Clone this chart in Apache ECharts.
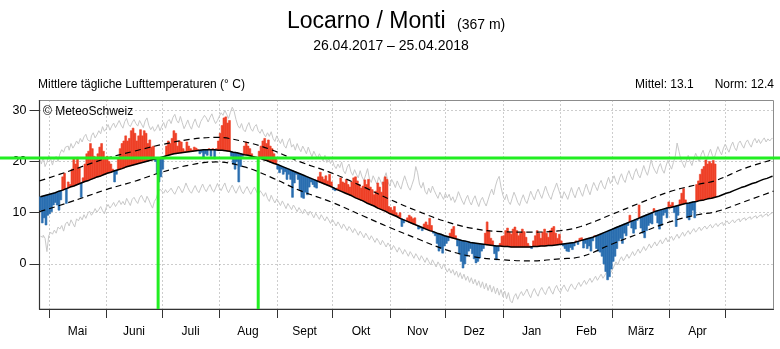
<!DOCTYPE html>
<html>
<head>
<meta charset="utf-8">
<script src="https://cdn.jsdelivr.net/npm/echarts@6/dist/echarts.min.js"></script>
<style>
  html, body { margin: 0; padding: 0; background: #fff; }
  #chart { width: 780px; height: 349px; }
</style>
</head>
<body>
<div id="chart"></div>
<script>
// Day index 0 = 26.04.2017; the axis runs on one year past that, plus one month of climatology.
const monthStarts = [5, 36, 66, 97, 128, 158, 189, 219, 250, 281, 309, 340, 370];
const monthMids   = [20.5, 51, 81.5, 112.5, 143, 173.5, 204, 234.5, 265.5, 295, 324.5, 355];
const monthNames  = ['Mai', 'Juni', 'Juli', 'Aug', 'Sept', 'Okt', 'Nov', 'Dez', 'Jan', 'Feb', 'März', 'Apr'];
const yTicks = [0, 10, 20, 30];

// Daily mean air temperature, 26.04.2017 – 25.04.2018 (°C)
const tempDaily = [
  10.5,8.0,9.0,7.6,9.5,9.8,10.2,11.5,12.0,11.5,
  10.5,12.5,17.0,17.7,11.8,16.0,15.5,18.5,20.5,19.5,
  20.8,18.8,13.0,16.8,19.5,21.5,22.0,23.5,22.5,21.0,
  20.8,21.5,22.8,23.5,22.0,20.5,21.0,20.0,19.5,18.5,
  16.0,17.5,20.5,22.5,23.5,24.0,25.0,24.0,24.5,26.0,
  26.5,25.5,24.0,25.0,26.2,25.0,26.0,25.5,23.5,24.2,
  22.8,23.0,20.0,17.5,16.0,17.0,18.5,20.5,23.0,24.0,
  23.5,24.5,26.0,25.5,23.0,24.0,23.8,22.5,22.0,23.8,
  23.0,22.5,22.2,22.8,22.6,22.3,21.5,21.8,20.8,21.5,
  21.2,22.5,21.0,22.5,20.5,22.5,24.0,25.5,27.0,28.5,
  28.7,27.5,28.0,21.0,19.5,18.5,20.0,16.0,19.0,21.0,
  23.0,23.8,23.0,22.5,21.5,21.0,20.9,20.6,22.0,23.0,
  24.0,24.5,23.5,24.2,23.0,22.5,21.5,20.5,18.5,17.8,
  18.5,17.5,18.0,16.5,17.5,16.5,13.0,15.8,17.5,16.5,
  14.5,13.0,12.8,14.0,13.5,15.0,16.0,15.5,15.0,14.8,
  17.0,17.9,17.0,16.5,17.2,16.2,17.5,16.0,14.5,14.3,
  14.8,15.5,16.8,16.0,15.8,16.5,15.5,15.0,16.0,16.8,
  17.0,16.2,15.5,14.8,15.2,16.4,15.5,16.5,15.0,14.5,
  13.5,14.2,15.8,15.0,14.0,16.0,17.0,16.5,11.2,11.0,
  10.5,11.2,10.0,9.5,10.0,7.3,8.0,8.5,9.0,9.5,
  9.2,8.8,9.0,7.5,6.8,7.0,6.5,7.8,8.2,7.6,
  8.9,7.5,6.0,5.5,4.0,2.5,3.0,2.1,3.5,4.0,
  4.5,6.0,6.8,7.3,5.5,3.5,2.0,0.5,-0.8,0.0,
  1.5,2.5,3.0,2.0,1.0,0.2,0.5,1.2,2.5,3.0,
  6.0,8.2,6.5,5.0,4.5,2.0,0.8,2.5,4.0,5.4,
  5.5,6.5,7.0,6.2,5.8,6.8,7.2,6.5,5.5,6.0,
  6.8,6.3,5.2,4.0,3.5,3.0,4.5,5.5,6.5,6.0,
  5.0,6.2,6.8,6.0,5.2,6.5,7.0,7.3,6.0,5.0,
  5.8,4.5,3.5,3.0,2.5,2.4,3.2,2.8,3.5,4.5,
  3.8,5.0,5.1,3.1,4.0,3.0,3.5,2.5,4.5,5.5,
  3.0,2.5,2.3,1.5,0.0,-1.5,-3.1,-2.5,-1.0,0.5,
  1.5,3.0,4.5,5.0,4.0,6.0,5.5,7.5,9.5,7.0,
  6.0,6.8,8.5,11.5,7.0,6.0,5.1,6.5,7.5,8.0,
  7.8,10.8,9.5,8.0,6.8,7.5,9.5,10.0,9.0,12.1,
  11.5,12.0,10.0,7.3,9.5,12.5,13.8,14.7,12.5,9.0,
  8.6,9.5,10.5,9.0,15.5,16.2,17.5,18.5,19.0,20.3,
  19.5,20.0,19.6,20.2,19.5
];

// Daily norm (°C)
const normDaily = [
  13.1,13.2,13.3,13.4,13.5,13.6,13.7,13.8,13.9,14.0,14.2,
  14.3,14.4,14.6,14.7,14.8,15.0,15.1,15.2,15.4,15.5,
  15.7,15.8,15.9,16.1,16.2,16.3,16.5,16.6,16.7,16.9,
  17.0,17.1,17.3,17.4,17.5,17.7,17.8,17.9,18.0,18.2,
  18.3,18.4,18.5,18.6,18.7,18.9,19.0,19.1,19.2,19.3,
  19.4,19.5,19.6,19.7,19.8,19.9,20.0,20.1,20.2,20.3,
  20.4,20.5,20.6,20.7,20.8,20.9,21.0,21.1,21.2,21.3,
  21.4,21.5,21.5,21.6,21.7,21.7,21.8,21.8,21.9,21.9,
  22.0,22.0,22.1,22.1,22.2,22.2,22.2,22.3,22.3,22.3,
  22.3,22.3,22.3,22.3,22.3,22.2,22.2,22.2,22.1,22.1,
  22.0,22.0,21.9,21.8,21.8,21.7,21.6,21.5,21.4,21.3,
  21.3,21.2,21.1,21.0,20.9,20.8,20.8,20.7,20.6,20.4,
  20.3,20.2,20.0,19.9,19.8,19.6,19.5,19.4,19.2,19.1,
  18.9,18.8,18.6,18.5,18.3,18.2,18.0,17.9,17.7,17.6,
  17.4,17.3,17.1,17.0,16.8,16.7,16.5,16.4,16.2,16.1,
  15.9,15.8,15.6,15.5,15.3,15.2,15.0,14.9,14.7,14.5,
  14.4,14.2,14.1,13.9,13.7,13.6,13.4,13.3,13.1,12.9,
  12.8,12.6,12.4,12.3,12.1,11.9,11.8,11.6,11.4,11.3,
  11.1,10.9,10.8,10.6,10.4,10.3,10.1,9.9,9.8,9.6,
  9.4,9.3,9.1,8.9,8.8,8.6,8.5,8.3,8.1,8.0,
  7.8,7.7,7.5,7.4,7.2,7.1,6.9,6.8,6.7,6.5,
  6.4,6.3,6.1,6.0,5.9,5.8,5.6,5.5,5.4,5.3,
  5.2,5.1,5.0,4.9,4.8,4.7,4.6,4.5,4.5,4.4,
  4.3,4.2,4.2,4.1,4.0,4.0,3.9,3.9,3.8,3.8,
  3.7,3.7,3.6,3.6,3.6,3.5,3.5,3.5,3.4,3.4,
  3.4,3.4,3.4,3.3,3.3,3.3,3.3,3.3,3.3,3.3,
  3.3,3.3,3.3,3.3,3.4,3.4,3.4,3.4,3.4,3.5,
  3.5,3.5,3.5,3.6,3.6,3.6,3.7,3.7,3.7,3.8,
  3.8,3.9,3.9,4.0,4.0,4.1,4.1,4.2,4.3,4.4,
  4.5,4.6,4.7,4.8,4.9,5.0,5.1,5.2,5.4,5.5,
  5.6,5.8,5.9,6.1,6.2,6.4,6.6,6.7,6.9,7.0,
  7.2,7.3,7.5,7.6,7.8,7.9,8.1,8.2,8.4,8.5,
  8.7,8.8,9.0,9.1,9.3,9.4,9.6,9.7,9.9,10.0,
  10.2,10.3,10.4,10.5,10.6,10.7,10.8,10.9,11.0,11.0,
  11.1,11.2,11.3,11.4,11.5,11.6,11.7,11.8,11.8,11.9,
  12.0,12.1,12.1,12.2,12.3,12.4,12.4,12.5,12.6,12.7,
  12.8,12.8,12.9,13.0,13.1,13.2,13.4,13.5,13.6,13.8,
  13.9,14.0,14.2,14.3,14.5,14.6,14.7,14.9,15.0,15.1,
  15.3,15.4,15.5,15.7,15.8,15.9,16.1,16.2,16.3,16.5,
  16.6,16.7,16.8,17.0,17.1
];

// Highest daily mean on record for each calendar day (°C)
const recordHigh = [
  20.2,19.5,20.8,19.0,19.8,21.2,20.5,19.3,20.6,21.0,20.0,
  21.5,22.3,21.8,22.8,23.0,22.2,23.5,22.6,23.2,24.0,
  23.4,24.5,23.8,24.8,25.3,24.2,23.9,25.0,25.6,24.6,
  25.2,26.0,25.4,26.8,25.9,26.4,27.2,26.1,26.9,27.5,
  26.6,27.3,28.0,27.1,26.5,27.8,28.4,27.2,26.8,27.6,
  28.2,27.4,26.9,28.0,27.3,26.6,27.9,28.5,27.0,26.2,
  26.8,25.9,26.4,27.2,26.0,26.9,27.6,26.5,27.8,28.2,
  27.4,28.6,29.2,28.0,27.5,28.8,27.6,26.4,27.2,28.1,
  27.0,26.3,27.5,28.3,27.1,26.6,27.8,28.4,29.0,28.5,
  27.7,28.6,29.3,28.2,27.4,28.0,28.8,29.5,29.0,30.0,
  29.2,28.4,29.6,30.6,29.8,28.2,27.0,26.5,27.4,26.2,
  25.8,26.9,27.6,26.4,25.9,26.8,27.2,26.0,25.5,26.3,
  25.4,24.8,25.6,24.9,25.8,24.5,23.9,25.0,24.2,23.5,
  24.4,23.1,22.6,23.8,24.5,22.8,23.3,22.2,23.5,22.6,
  21.9,23.0,22.3,21.5,22.8,21.8,20.9,22.0,21.2,20.6,
  21.5,20.8,20.1,21.2,19.8,20.6,19.6,20.3,19.2,18.6,
  19.5,18.8,19.9,18.2,17.6,18.9,19.5,18.0,17.3,18.4,
  17.5,16.8,18.2,17.0,16.3,17.4,18.6,16.6,15.9,17.2,
  16.4,15.6,17.0,16.2,15.4,16.8,17.8,16.0,15.2,16.5,
  15.8,14.9,16.2,15.3,14.6,16.0,17.2,16.1,15.0,14.4,
  15.5,16.6,19.0,17.8,15.6,14.8,15.9,14.2,13.6,14.8,
  13.9,15.2,14.3,13.5,12.8,14.0,13.3,12.6,13.8,12.9,
  13.6,12.4,13.1,12.0,12.8,14.1,13.2,12.3,11.6,12.7,
  13.4,12.2,11.5,12.6,13.3,12.1,11.2,12.4,13.0,12.0,
  11.3,12.5,13.7,14.6,13.5,15.2,16.4,17.1,15.0,13.4,
  12.5,13.6,12.2,11.6,12.8,14.0,13.1,12.0,11.4,12.6,
  13.5,12.4,11.8,13.0,14.2,13.3,12.5,13.8,14.6,13.6,
  12.8,14.0,15.2,14.1,13.2,12.6,13.9,14.8,15.8,14.6,
  13.5,12.8,14.1,13.4,12.6,13.8,14.9,13.7,12.9,14.2,
  15.0,14.0,13.2,14.5,15.6,14.4,13.5,14.8,15.9,15.1,
  14.3,15.6,16.3,15.2,14.6,15.8,16.9,15.7,16.4,17.2,
  16.1,15.5,16.8,17.6,16.5,15.9,17.3,18.2,17.1,16.4,
  17.8,18.6,17.4,16.8,18.0,19.2,18.1,17.3,18.7,20.3,
  19.0,18.2,17.6,18.9,19.6,18.4,17.7,19.1,20.2,19.3,
  18.5,19.8,21.0,23.6,22.0,20.4,19.6,18.8,20.1,21.2,
  20.0,19.2,20.5,21.6,20.8,19.9,21.4,22.2,21.0,20.3,
  21.5,22.4,21.2,20.6,21.8,22.9,22.0,21.3,22.6,23.4,
  22.5,21.8,23.0,23.8,22.7,22.1,23.5,24.0,23.2,22.6,
  23.7,24.2,23.4,22.8,23.9,24.5,23.6,24.3,23.5,24.1,
  24.6,23.8,24.4,24.0,24.5
];

// Lowest daily mean on record for each calendar day (°C)
const recordLow = [
  5.4,5.2,5.6,5.0,2.4,5.5,6.2,5.8,6.6,6.0,7.2,
  6.8,7.5,6.4,7.8,8.2,7.4,8.6,7.9,7.2,8.8,
  8.4,9.2,8.6,9.6,8.9,9.8,10.3,9.5,10.0,10.8,
  10.1,10.6,11.2,10.4,9.8,11.0,11.6,10.9,11.4,12.0,
  11.2,11.8,12.4,11.6,12.2,11.5,12.8,12.1,11.4,12.6,
  13.0,12.3,11.8,12.9,13.4,12.6,12.0,13.2,12.5,11.6,
  10.9,12.2,12.8,14.0,14.6,14.2,13.8,14.5,13.9,14.3,
  14.8,14.1,13.6,14.4,15.2,14.6,13.9,14.7,15.8,14.9,
  14.2,13.8,14.6,15.3,14.4,13.9,14.8,15.6,14.7,14.1,
  14.9,15.5,14.6,14.0,14.8,15.7,14.9,14.3,15.1,15.8,
  14.6,13.9,14.7,15.4,14.5,13.8,14.6,15.3,14.2,13.7,
  14.5,15.1,14.3,13.6,14.4,15.0,14.2,13.5,14.3,13.8,
  13.2,13.9,12.8,12.2,13.4,12.6,11.9,12.7,12.1,11.4,
  12.3,11.6,10.8,11.8,11.2,10.6,11.5,10.9,10.2,11.0,
  10.4,9.8,10.7,10.1,9.5,10.3,9.7,9.0,9.9,9.3,
  8.7,9.6,9.0,8.4,9.2,8.6,7.9,8.7,8.1,7.4,
  8.2,7.6,6.9,7.8,7.2,6.5,7.3,6.8,6.1,6.9,
  6.3,5.6,6.4,5.8,5.1,6.0,5.4,4.7,5.5,4.9,
  4.2,5.0,4.4,3.7,4.6,4.0,3.3,4.1,3.5,2.8,
  3.6,3.0,2.3,3.2,2.6,1.9,2.8,2.2,1.5,2.4,
  1.8,1.1,2.0,1.4,0.7,1.6,1.0,0.3,1.2,0.5,
  -0.2,0.8,0.1,-0.6,0.4,-0.3,-1.0,0.0,-0.8,-1.6,
  -0.9,-1.8,-1.1,-2.2,-1.4,-2.6,-1.7,-2.9,-2.0,-3.2,
  -2.4,-3.6,-2.7,-3.9,-3.0,-4.2,-3.3,-4.6,-3.5,-4.9,
  -3.8,-5.2,-4.1,-5.5,-4.4,-5.8,-4.7,-6.1,-5.0,-6.4,
  -5.3,-6.8,-5.6,-7.2,-7.6,-6.4,-5.8,-6.9,-6.0,-5.4,
  -6.2,-5.6,-4.9,-5.9,-6.6,-5.5,-4.8,-5.7,-6.3,-5.2,
  -4.6,-5.4,-6.0,-5.0,-4.4,-5.3,-5.9,-4.8,-4.2,-5.1,
  -5.6,-4.7,-4.1,-4.9,-5.4,-4.5,-3.9,-4.6,-5.0,-4.2,
  -3.6,-4.4,-3.8,-3.2,-4.0,-3.4,-2.8,-3.6,-3.0,-2.4,
  -3.2,-2.6,-2.0,-2.8,-2.2,-1.6,-2.4,-1.8,-1.2,-0.4,
  0.4,-0.2,0.8,1.4,0.6,1.2,1.9,1.1,1.7,2.4,
  1.6,2.2,2.9,2.1,2.7,3.4,2.6,3.2,3.9,3.1,
  3.7,4.3,3.5,4.1,4.7,3.9,4.5,5.1,4.3,4.9,
  5.4,4.6,5.2,5.8,5.0,5.6,6.2,5.4,6.0,6.5,
  5.8,6.4,6.9,6.2,6.7,7.2,6.5,7.0,7.4,6.8,
  7.3,7.7,7.0,7.5,7.9,7.3,7.8,8.1,7.5,8.0,
  8.4,7.8,8.2,8.6,8.0,8.5,8.8,8.2,8.7,9.0,
  8.5,8.9,9.2,8.7,9.1,9.4,8.9,9.3,9.6,9.1,
  9.5,9.8,9.3,9.7,10.0
];

// Upper and lower bounds of the normal range, [day, °C]
const bandUpper = [
  [0,16.2],[15,18.0],[36,20.6],[51,22.0],[66,23.3],[81,24.3],[95,24.7],[110,23.9],
  [125,22.3],[140,20.0],[158,17.7],[175,15.0],[189,12.6],[204,10.3],[219,8.3],
  [234,6.9],[250,6.3],[265,6.2],[281,6.5],[292,7.3],[309,9.7],[324,11.9],[340,14.1],
  [355,15.5],[365,16.3],[380,18.6],[396,20.4]
];
const bandLower = [
  [0,10.2],[15,11.9],[36,14.5],[51,16.1],[66,17.9],[81,19.3],[95,19.9],[110,19.0],
  [125,16.9],[140,14.4],[158,12.0],[175,9.3],[189,7.1],[204,4.9],[219,2.8],
  [234,1.4],[250,0.8],[265,0.6],[281,1.0],[292,1.4],[309,3.9],[324,6.0],[340,8.2],
  [355,9.6],[365,10.2],[380,12.1],[396,14.2]
];

// Reference level and the two days where it is marked
const markerLevel = 20.7;
const markerDays = [64, 118];

const FONT = '"Liberation Sans", Arial, Helvetica, sans-serif';
const RED = '#ee4027';
const BLUE = '#2a6eb0';
const Y_MIN = -8.8, Y_MAX = 31.9;

const atMid = arr => arr.map((v, i) => [i + 0.5, v]);

// One bar per day, spanning from the norm to the measured value
function renderAnomaly(params, api) {
  const d = api.value(0), v = api.value(1), n = api.value(2);
  const a = api.coord([d, n]);
  const b = api.coord([d + 1, v]);
  const col = v >= n ? RED : BLUE;
  return {
    type: 'rect',
    shape: { x: a[0], y: Math.min(a[1], b[1]), width: b[0] - a[0], height: Math.abs(b[1] - a[1]) },
    style: { fill: col, stroke: col, lineWidth: 0.6 }
  };
}

const chart = echarts.init(document.getElementById('chart'), null, { renderer: 'canvas' });

const dotted = { type: [1, 3], color: '#9a9a9a', width: 1 };

chart.setOption({
  animation: false,
  grid: { left: 39.5, right: 6.5, top: 100.5, bottom: 40, show: true, borderColor: '#8c8c8c', borderWidth: 1, backgroundColor: '#fff' },
  xAxis: {
    type: 'value', min: 0, max: 396,
    axisLine: { show: true, onZero: false, lineStyle: { color: '#333', width: 1.2 } },
    axisTick: { show: true, customValues: monthStarts, length: 9, lineStyle: { color: '#333', width: 1 } },
    axisLabel: {
      customValues: monthMids, margin: 17, fontSize: 12, color: '#000', fontFamily: FONT,
      formatter: v => monthNames[monthMids.indexOf(v)]
    },
    splitLine: { show: true, lineStyle: dotted }
  },
  yAxis: {
    type: 'value', min: Y_MIN, max: Y_MAX,
    axisLine: { show: true, lineStyle: { color: '#333', width: 1.2 } },
    axisTick: { show: true, customValues: yTicks, length: 10, lineStyle: { color: '#333' } },
    axisLabel: { customValues: yTicks, margin: 13, fontSize: 12.5, color: '#000', fontFamily: FONT },
    splitLine: { show: true, lineStyle: dotted }
  },
  graphic: [
    { type: 'text', id: 't1', x: 287, y: 22, style: { text: 'Locarno / Monti', font: '23px ' + FONT, fill: '#000', textVerticalAlign: 'middle' } },
    { type: 'text', id: 't2', x: 457, y: 25, style: { text: '(367 m)', font: '14px ' + FONT, fill: '#000', textVerticalAlign: 'middle' } },
    { type: 'text', id: 't3', x: 391, y: 46, style: { text: '26.04.2017 – 25.04.2018', font: '14px ' + FONT, fill: '#000', textAlign: 'center', textVerticalAlign: 'middle' } },
    { type: 'text', id: 't4', x: 38, y: 85, style: { text: 'Mittlere tägliche Lufttemperaturen (° C)', font: '12px ' + FONT, fill: '#000', textVerticalAlign: 'middle' } },
    { type: 'text', id: 't5', x: 635, y: 85, style: { text: 'Mittel: 13.1', font: '12px ' + FONT, fill: '#000', textVerticalAlign: 'middle' } },
    { type: 'text', id: 't6', x: 774, y: 85, style: { text: 'Norm: 12.4', font: '12px ' + FONT, fill: '#000', textAlign: 'right', textVerticalAlign: 'middle' } },
    { type: 'text', id: 't7', x: 43, y: 112, z: 10, style: { text: '© MeteoSchweiz', font: '12px ' + FONT, fill: '#000', textVerticalAlign: 'middle' } }
  ],
  series: [
    { type: 'line', data: atMid(recordHigh), step: 'middle', symbol: 'none', silent: true, z: 1,
      lineStyle: { color: '#c8c8c8', width: 1 } },
    { type: 'line', data: atMid(recordLow), step: 'middle', symbol: 'none', silent: true, z: 1,
      lineStyle: { color: '#c8c8c8', width: 1 } },
    { type: 'custom', renderItem: renderAnomaly, z: 3, silent: true,
      encode: { x: 0, y: 1 },
      data: tempDaily.map((v, i) => [i, v, normDaily[i]]) },
    { type: 'line', data: bandUpper, smooth: 0.4, symbol: 'none', silent: true, z: 4,
      lineStyle: { color: '#000', width: 1.2, type: [6, 4] } },
    { type: 'line', data: bandLower, smooth: 0.4, symbol: 'none', silent: true, z: 4,
      lineStyle: { color: '#000', width: 1.2, type: [6, 4] } },
    { type: 'line', data: atMid(normDaily), symbol: 'none', silent: true, z: 5,
      lineStyle: { color: '#000', width: 1.5 } }
  ]
});

// Lime reference lines: level across the whole figure, and the two marked days down to the axis
const yLevel = chart.convertToPixel({ gridIndex: 0 }, [0, markerLevel])[1];
const yBase = chart.convertToPixel({ gridIndex: 0 }, [0, Y_MIN])[1];
const lime = { stroke: '#22ee22', lineWidth: 3 };
const markers = [
  { type: 'line', id: 'g0', z: 100, shape: { x1: 0, y1: yLevel, x2: 780, y2: yLevel }, style: lime }
].concat(markerDays.map((d, k) => {
  const x = chart.convertToPixel({ gridIndex: 0 }, [d, 0])[0];
  return { type: 'line', id: 'g' + (k + 1), z: 100, shape: { x1: x, y1: yLevel, x2: x, y2: yBase }, style: lime };
}));
chart.setOption({ graphic: markers });
</script>
</body>
</html>
